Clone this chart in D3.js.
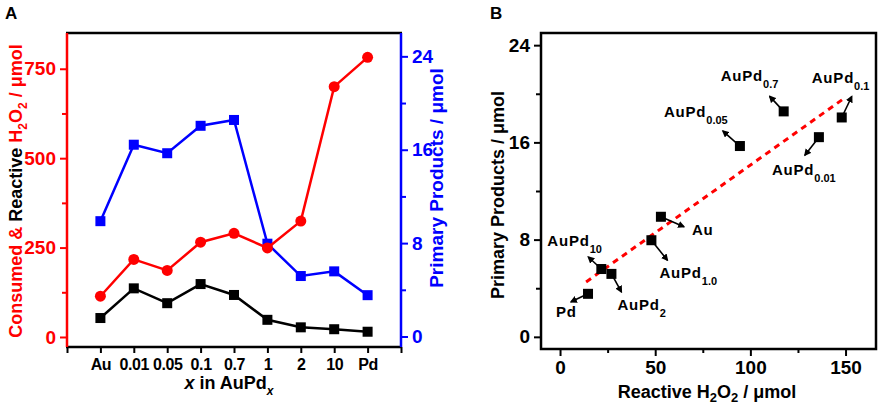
<!DOCTYPE html>
<html>
<head>
<meta charset="utf-8">
<script src="https://cdnjs.cloudflare.com/ajax/libs/d3/7.8.5/d3.min.js"></script>
<style>
  body { margin: 0; background: #fff; }
  svg text { font-family: "Liberation Sans", Arial, sans-serif; font-weight: bold; }
</style>
</head>
<body>
<div id="chart"></div>
<script>
// x in AuPd_x
var categories = ["Au", "0.01", "0.05", "0.1", "0.7", "1", "2", "10", "Pd"];
var consumed = [114, 217, 186, 265, 290, 249, 324, 700, 782];
var reactive = [53, 136, 94.5, 148, 117.5, 48, 27, 21.7, 14.7];
var products = [9.88, 16.43, 15.7, 18.05, 18.55, 7.95, 5.18, 5.58, 3.54];

var labelBase = ["Au", "AuPd", "AuPd", "AuPd", "AuPd", "AuPd", "AuPd", "AuPd", "Pd"];
var labelSub = ["", "0.01", "0.05", "0.1", "0.7", "1.0", "2", "10", ""];

var leftTicks = [0, 250, 500, 750];
var rightTicks = [0, 8, 16, 24];
var bxTicks = [0, 50, 100, 150];
var byTicks = [0, 8, 16, 24];

// linear fit drawn in panel B
var fitX = [13.7, 149.6];
var fitY = [4.52, 19.66];

// label / arrow offsets (px) for panel B
var annot = [
  {tx: 31, ty: 18, ax: 23, ay: 10},
  {tx: -47, ty: 38, ax: -14, ay: 18},
  {tx: -76, ty: -29, ax: -17, ay: -15},
  {tx: -30, ty: -34, ax: 10, ay: -21},
  {tx: -63, ty: -30, ax: -14, ay: -15},
  {tx: 8, ty: 38, ax: 16, ay: 20},
  {tx: 6, ty: 36, ax: 10, ay: 18},
  {tx: -54, ty: -23, ax: -13, ay: -12},
  {tx: -32, ty: 23, ax: -17, ay: 8}
];

var RED = "#ff0000", BLUE = "#0000ff";

var svg = d3.select("#chart").append("svg").attr("width", 879).attr("height", 408);

svg.append("defs").append("marker")
  .attr("id", "head")
  .attr("viewBox", "0 0 10 10")
  .attr("refX", 8).attr("refY", 5)
  .attr("markerWidth", 4.5).attr("markerHeight", 4.5)
  .attr("orient", "auto")
  .append("path").attr("d", "M0,0L10,5L0,10z").attr("fill", "#000");

function styleAxis(g, color, size) {
  g.select(".domain").remove();
  g.selectAll("line").attr("stroke", color).attr("stroke-width", 2);
  g.selectAll("text").attr("fill", color).style("font-size", size + "px");
}

// ---------- panel A ----------
var aL = 67, aR = 401, aT = 33, aB = 347;
var xA = d3.scaleLinear().domain([0, 10]).range([aL, aR]);
var yL = d3.scaleLinear().domain([-28, 850]).range([aB, aT]);
var yR = d3.scaleLinear().domain([-0.9, 26]).range([aB, aT]);

var gA = svg.append("g");

gA.append("g").attr("transform", "translate(" + aL + ",0)")
  .call(d3.axisLeft(yL).tickValues([125, 375, 625]).tickSize(5).tickFormat(""))
  .call(styleAxis, RED, 19);
gA.append("g").attr("transform", "translate(" + aL + ",0)")
  .call(d3.axisLeft(yL).tickValues(leftTicks).tickSize(7).tickPadding(4))
  .call(styleAxis, RED, 19);
gA.append("g").attr("transform", "translate(" + aR + ",0)")
  .call(d3.axisRight(yR).tickValues([4, 12, 20]).tickSize(5).tickFormat(""))
  .call(styleAxis, BLUE, 19);
gA.append("g").attr("transform", "translate(" + aR + ",0)")
  .call(d3.axisRight(yR).tickValues(rightTicks).tickSize(7).tickPadding(4))
  .call(styleAxis, BLUE, 19);
gA.append("g").attr("transform", "translate(0," + aB + ")")
  .call(d3.axisBottom(xA).tickValues(d3.range(0, 11)).tickSize(6).tickPadding(6)
    .tickFormat(function(d) { return categories[d - 1] || ""; }))
  .call(styleAxis, "#000", 16)
  .selectAll("text").style("letter-spacing", "-0.4px");

// frame
gA.append("line").attr("x1", aL - 1).attr("x2", aR + 1).attr("y1", aT).attr("y2", aT).attr("stroke", "#000").attr("stroke-width", 2.5);
gA.append("line").attr("x1", aL - 1).attr("x2", aR + 1).attr("y1", aB).attr("y2", aB).attr("stroke", "#000").attr("stroke-width", 2.5);
gA.append("line").attr("x1", aL).attr("x2", aL).attr("y1", aT).attr("y2", aB).attr("stroke", RED).attr("stroke-width", 2.5);
gA.append("line").attr("x1", aR).attr("x2", aR).attr("y1", aT).attr("y2", aB).attr("stroke", BLUE).attr("stroke-width", 2.5);

function drawSeries(values, yScale, color, shape) {
  var line = d3.line().x(function(d, i) { return xA(i + 1); }).y(function(d) { return yScale(d); });
  gA.append("path").datum(values).attr("d", line)
    .attr("fill", "none").attr("stroke", color).attr("stroke-width", 2.5);
  if (shape == "circle") {
    gA.selectAll(null).data(values).enter().append("circle")
      .attr("cx", function(d, i) { return xA(i + 1); })
      .attr("cy", function(d) { return yScale(d); })
      .attr("r", 5.5).attr("fill", color);
  } else {
    gA.selectAll(null).data(values).enter().append("rect")
      .attr("x", function(d, i) { return xA(i + 1) - 5; })
      .attr("y", function(d) { return yScale(d) - 5; })
      .attr("width", 10).attr("height", 10).attr("fill", color);
  }
}
drawSeries(products, yR, BLUE, "square");
drawSeries(consumed, yL, RED, "circle");
drawSeries(reactive, yL, "#000", "square");

// titles A
svg.append("text").attr("x", 5).attr("y", 19).style("font-size", "17px").text("A");

var tl = svg.append("text").attr("transform", "translate(22,191) rotate(-90)")
  .attr("text-anchor", "middle").style("font-size", "18px");
tl.append("tspan").attr("fill", RED).text("Consumed & ");
tl.append("tspan").attr("fill", "#000").text("Reactive ");
tl.append("tspan").attr("fill", RED).text("H");
tl.append("tspan").attr("fill", RED).attr("dy", 5).style("font-size", "12px").text("2");
tl.append("tspan").attr("fill", RED).attr("dy", -5).text("O");
tl.append("tspan").attr("fill", RED).attr("dy", 5).style("font-size", "12px").text("2");
tl.append("tspan").attr("fill", RED).attr("dy", -5).text(" / \u03bcmol");

svg.append("text").attr("transform", "translate(443,178) rotate(-90)")
  .attr("text-anchor", "middle").attr("fill", BLUE).style("font-size", "19px")
  .text("Primary Products / \u03bcmol");

var xl = svg.append("text").attr("x", 229).attr("y", 389).attr("text-anchor", "middle").style("font-size", "18px");
xl.append("tspan").style("font-style", "italic").text("x");
xl.append("tspan").text(" in AuPd");
xl.append("tspan").attr("dy", 6).style("font-style", "italic").style("font-size", "12px").text("x");

// ---------- panel B ----------
var bL = 541, bR = 876, bT = 33, bB = 349;
var xB = d3.scaleLinear().domain([-10, 166]).range([bL, bR]);
var yB = d3.scaleLinear().domain([-1, 25]).range([bB, bT]);

var gB = svg.append("g");

gB.append("g").attr("transform", "translate(" + bL + ",0)")
  .call(d3.axisLeft(yB).tickValues([4, 12, 20]).tickSize(5).tickFormat(""))
  .call(styleAxis, "#000", 19);
gB.append("g").attr("transform", "translate(" + bL + ",0)")
  .call(d3.axisLeft(yB).tickValues(byTicks).tickSize(7).tickPadding(4))
  .call(styleAxis, "#000", 19);
gB.append("g").attr("transform", "translate(0," + bB + ")")
  .call(d3.axisBottom(xB).tickValues([25, 75, 125]).tickSize(4).tickFormat(""))
  .call(styleAxis, "#000", 19);
gB.append("g").attr("transform", "translate(0," + bB + ")")
  .call(d3.axisBottom(xB).tickValues(bxTicks).tickSize(7).tickPadding(5))
  .call(styleAxis, "#000", 19);

gB.append("rect").attr("x", bL).attr("y", bT).attr("width", bR - bL).attr("height", bB - bT)
  .attr("fill", "none").attr("stroke", "#000").attr("stroke-width", 2.5);

gB.append("line")
  .attr("x1", xB(fitX[0])).attr("y1", yB(fitY[0]))
  .attr("x2", xB(fitX[1])).attr("y2", yB(fitY[1]))
  .attr("stroke", RED).attr("stroke-width", 3).attr("stroke-dasharray", "6,5");

// arrows
gB.selectAll(null).data(reactive).enter().append("line")
  .attr("x1", function(d) { return xB(d); })
  .attr("y1", function(d, i) { return yB(products[i]); })
  .attr("x2", function(d, i) { return xB(d) + annot[i].ax; })
  .attr("y2", function(d, i) { return yB(products[i]) + annot[i].ay; })
  .attr("stroke", "#000").attr("stroke-width", 1.6).attr("marker-end", "url(#head)");

gB.selectAll(null).data(reactive).enter().append("rect")
  .attr("x", function(d) { return xB(d) - 5; })
  .attr("y", function(d, i) { return yB(products[i]) - 5; })
  .attr("width", 10).attr("height", 10).attr("fill", "#000");

var lab = gB.selectAll(null).data(reactive).enter().append("text")
  .attr("x", function(d, i) { return xB(d) + annot[i].tx; })
  .attr("y", function(d, i) { return yB(products[i]) + annot[i].ty; })
  .style("font-size", "15px").style("letter-spacing", "0.8px");
lab.append("tspan").text(function(d, i) { return labelBase[i]; });
lab.append("tspan").attr("dy", 7).style("font-size", "11px").style("letter-spacing", "0px")
  .text(function(d, i) { return labelSub[i]; });

svg.append("text").attr("x", 490).attr("y", 19).style("font-size", "17px").text("B");

svg.append("text").attr("transform", "translate(504,195) rotate(-90)")
  .attr("text-anchor", "middle").style("font-size", "18px")
  .text("Primary Products / \u03bcmol");

var bl = svg.append("text").attr("x", 707).attr("y", 398).attr("text-anchor", "middle").style("font-size", "18px");
bl.append("tspan").text("Reactive H");
bl.append("tspan").attr("dy", 4).style("font-size", "13px").text("2");
bl.append("tspan").attr("dy", -4).text("O");
bl.append("tspan").attr("dy", 4).style("font-size", "13px").text("2");
bl.append("tspan").attr("dy", -4).text(" / \u03bcmol");
</script>
</body>
</html>
